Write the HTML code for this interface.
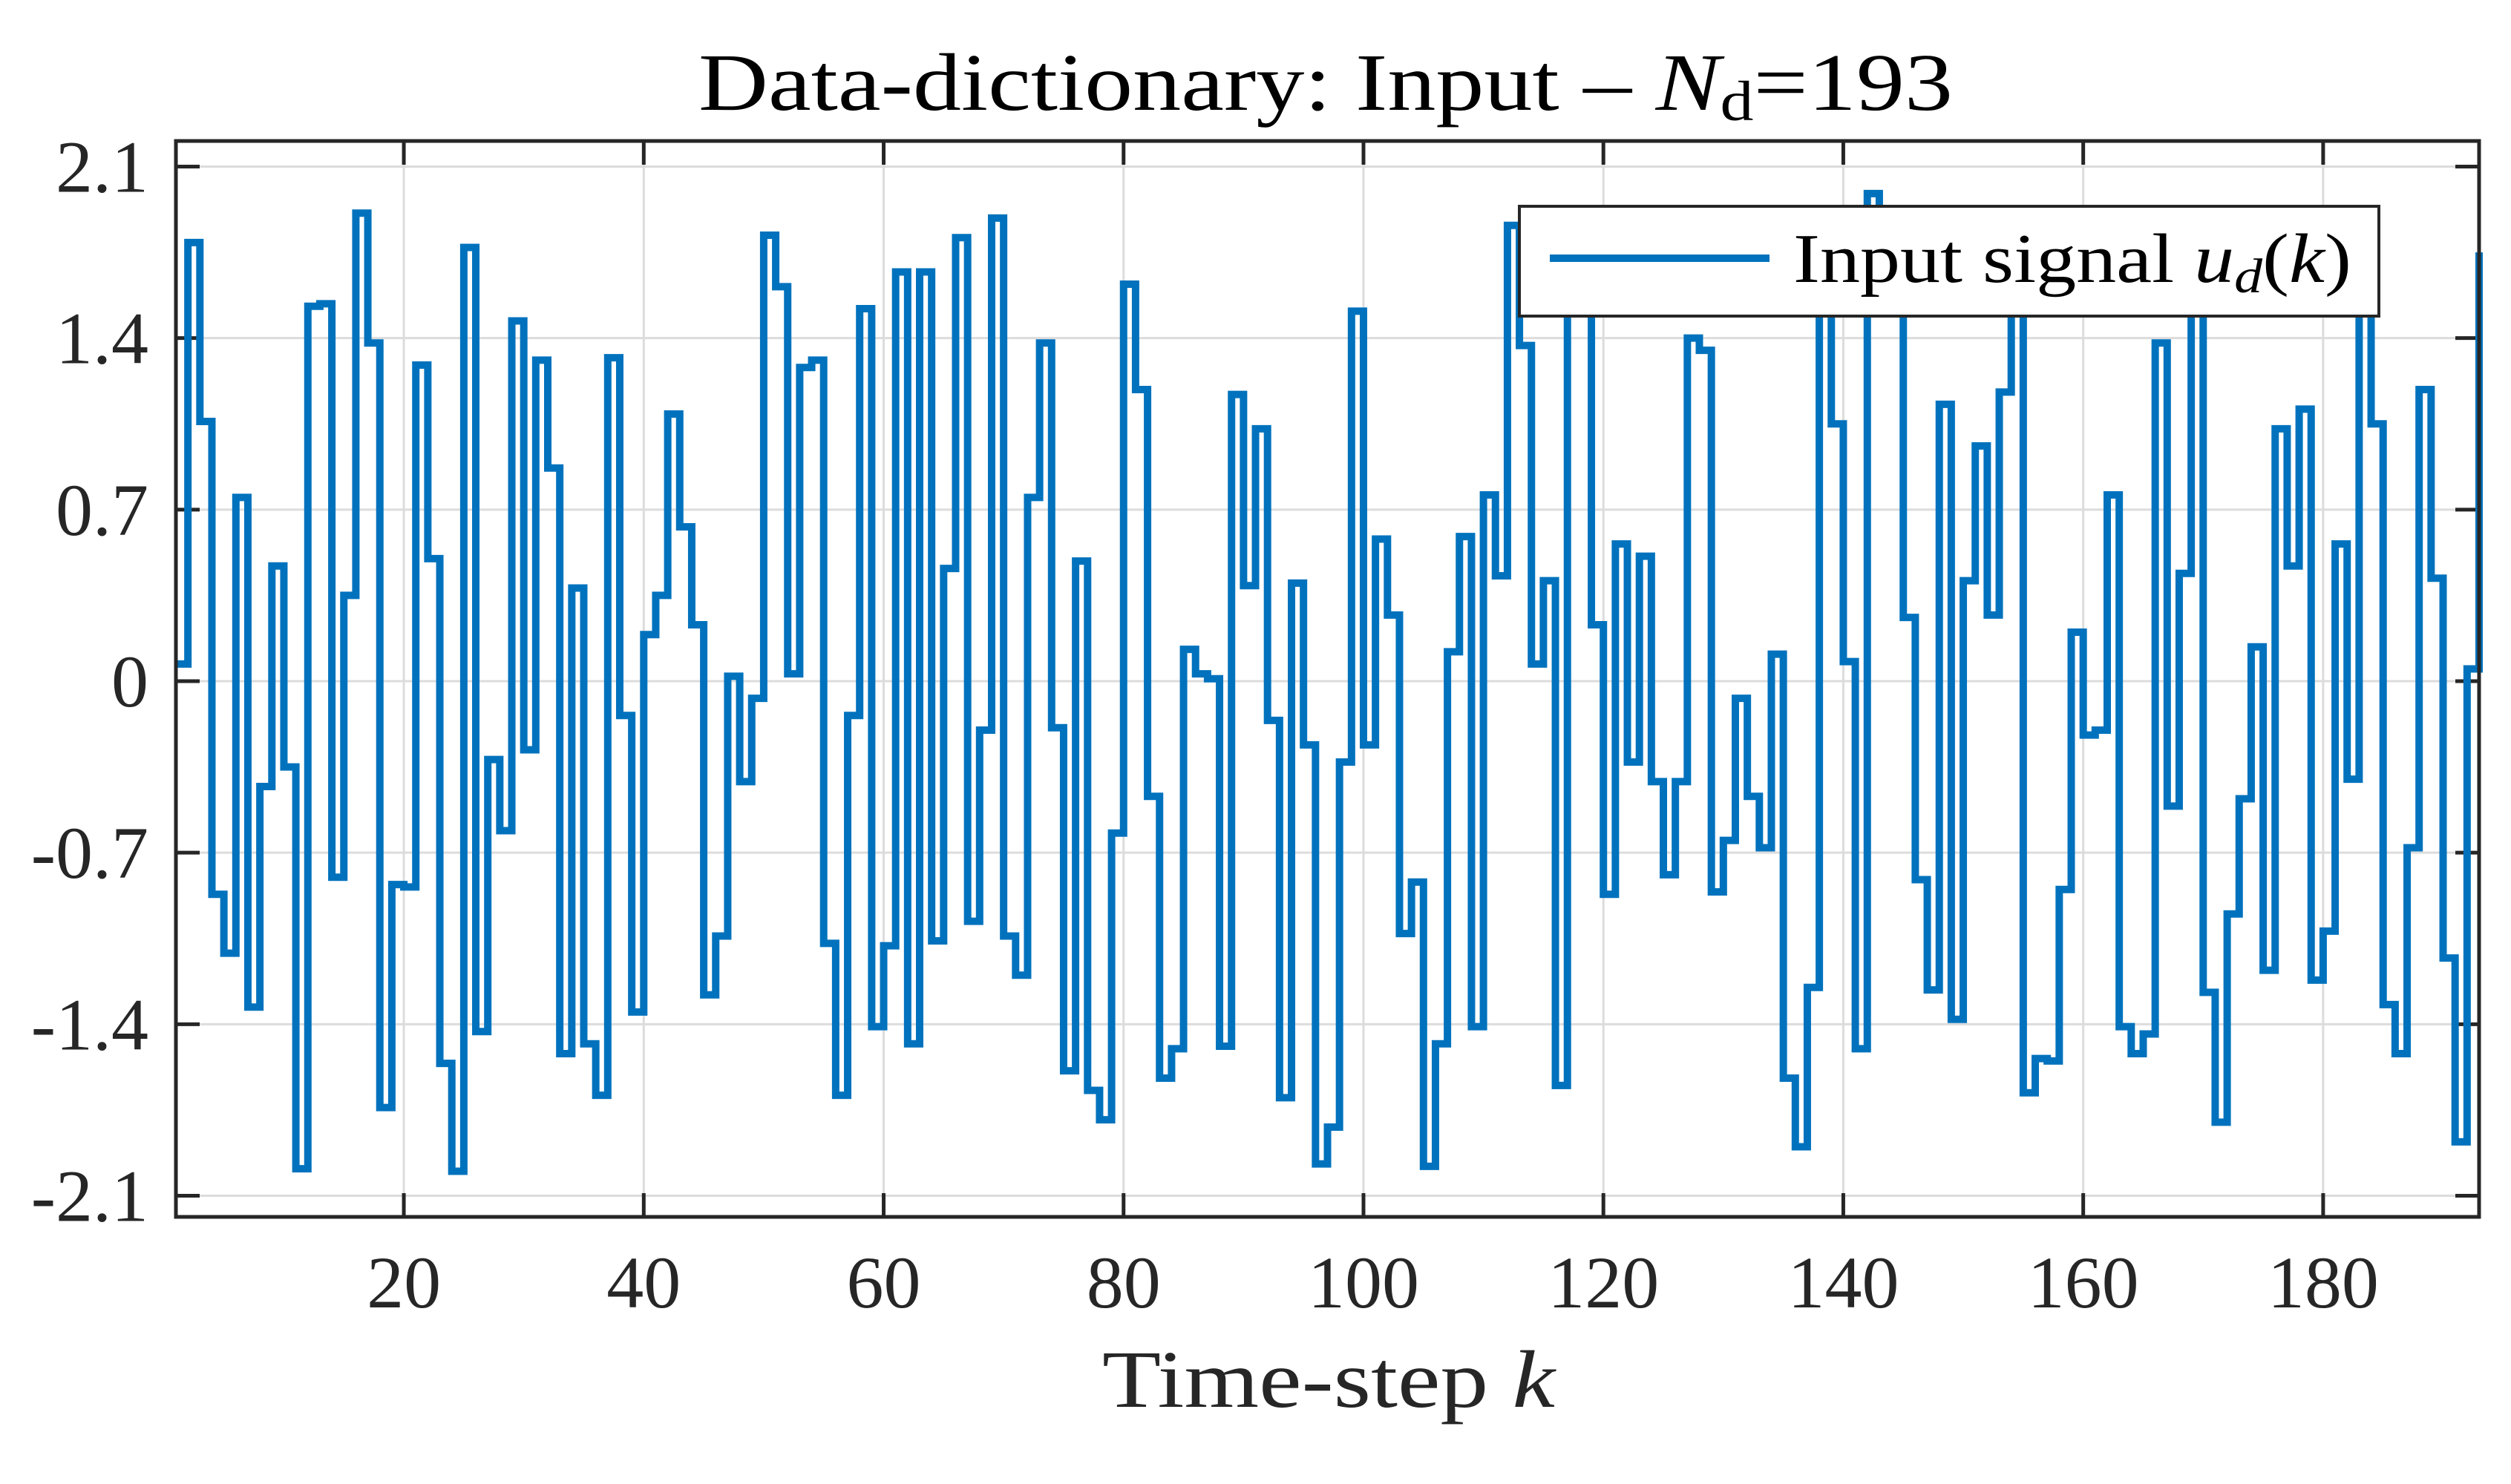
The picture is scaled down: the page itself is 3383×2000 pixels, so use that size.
<!DOCTYPE html>
<html><head><meta charset="utf-8"><style>
html,body{margin:0;padding:0;background:#fff;}
svg{display:block;font-family:"Liberation Serif",serif;}
</style></head><body>
<svg id="chart" width="3383" height="2000" viewBox="0 0 3383 2000" xmlns="http://www.w3.org/2000/svg">
<rect x="0" y="0" width="3383" height="2000" fill="#fff"/>
<g id="grid"></g>
<g id="ticks"></g>
<path id="series" fill="none" stroke="#0072BD" stroke-width="10" stroke-linejoin="miter"/>
<rect x="237" y="190" width="3103" height="1450" fill="none" stroke="#262626" stroke-width="5"/>
<g id="labels" fill="#262626" font-size="100"></g>
<text x="1786" y="148" text-anchor="middle" font-size="110" fill="#000" textLength="1690" lengthAdjust="spacingAndGlyphs">Data-dictionary: Input – <tspan font-style="italic">N</tspan><tspan font-size="76" dy="14">d</tspan><tspan dy="-14">=193</tspan></text>
<text x="1790" y="1896" text-anchor="middle" font-size="110" fill="#262626" textLength="610" lengthAdjust="spacingAndGlyphs">Time-step <tspan font-style="italic">k</tspan></text>
<g>
<rect x="2047" y="278" width="1158" height="148" fill="#fff" stroke="#262626" stroke-width="4"/>
<line x1="2088" y1="348" x2="2384" y2="348" stroke="#0072BD" stroke-width="10"/>
<text x="2416" y="380" font-size="94" fill="#000" textLength="752" lengthAdjust="spacingAndGlyphs">Input signal <tspan font-style="italic">u</tspan><tspan font-style="italic" font-size="66" dy="14">d</tspan><tspan dy="-14">(</tspan><tspan font-style="italic">k</tspan>)</text>
</g>
</svg>
<script>
const values = [0.07,1.79,1.06,-0.87,-1.11,0.75,-1.33,-0.43,0.47,-0.35,
-1.99,1.53,1.54,-0.80,0.35,1.91,1.38,-1.74,-0.83,-0.84,
1.29,0.50,-1.56,-2.00,1.77,-1.43,-0.32,-0.61,1.47,-0.28,
1.31,0.87,-1.52,0.38,-1.48,-1.69,1.32,-0.14,-1.35,0.19,
0.35,1.09,0.63,0.23,-1.28,-1.04,0.02,-0.41,-0.07,1.82,
1.61,0.03,1.28,1.31,-1.07,-1.69,-0.14,1.52,-1.41,-1.08,
1.67,-1.48,1.67,-1.06,0.46,1.81,-0.98,-0.20,1.89,-1.04,
-1.20,0.75,1.38,-0.19,-1.59,0.49,-1.67,-1.79,-0.62,1.62,
1.19,-0.47,-1.62,-1.50,0.13,0.03,0.01,-1.49,1.17,0.39,
1.03,-0.16,-1.70,0.40,-0.26,-1.97,-1.82,-0.33,1.51,-0.26,
0.58,0.27,-1.03,-0.82,-1.98,-1.48,0.12,0.59,-1.41,0.76,
0.43,1.86,1.37,0.07,0.41,-1.65,1.70,1.70,0.23,-0.87,
0.56,-0.33,0.51,-0.41,-0.79,-0.41,1.40,1.35,-0.86,-0.65,
-0.07,-0.47,-0.68,0.11,-1.62,-1.90,-1.25,1.70,1.05,0.08,
-1.50,1.99,1.65,1.65,0.26,-0.81,-1.26,1.13,-1.38,0.41,
0.96,0.27,1.18,1.70,-1.68,-1.54,-1.55,-0.85,0.20,-0.22,
-0.20,0.76,-1.41,-1.52,-1.44,1.38,-0.51,0.44,1.70,-1.27,
-1.80,-0.95,-0.48,0.14,-1.18,1.03,0.47,1.11,-1.22,-1.02,
0.56,-0.40,1.70,1.05,-1.32,-1.52,-0.68,1.19,0.42,-1.13,
-1.88,0.05,1.75];
const xTicks = [20,40,60,80,100,120,140,160,180];
const yTicks = [-2.1,-1.4,-0.7,0,0.7,1.4,2.1];
const yTickLabels = ["-2.1","-1.4","-0.7","0","0.7","1.4","2.1"];

const L=237,R=3340,T=190,B=1640;
const xMin=1,xMax=193;
function sx(k){return L+(k-xMin)/(xMax-xMin)*(R-L);}
function sy(v){return 918-v*(1610-223)/4.2;}
const NS="http://www.w3.org/2000/svg";
const grid=document.getElementById('grid'),ticks=document.getElementById('ticks'),labels=document.getElementById('labels');
function mk(tag,attrs,parent){const e=document.createElementNS(NS,tag);for(const k in attrs)e.setAttribute(k,attrs[k]);parent.appendChild(e);return e;}
xTicks.forEach(t=>{
  const x=sx(t);
  const g=mk('line',{x1:x,y1:T,x2:x,y2:B,stroke:'#dcdcdc','stroke-width':3},grid);
  
  
  const a=mk('line',{x1:x,y1:B,x2:x,y2:B-32,stroke:'#262626','stroke-width':5},ticks);
  
  
  const b=mk('line',{x1:x,y1:T,x2:x,y2:T+32,stroke:'#262626','stroke-width':5},ticks);
  
  
  const tx=mk('text',{x:x,y:1762,'text-anchor':'middle'},labels);
  tx.textContent=String(t);
  
  
});
yTicks.forEach((t,i)=>{
  const y=sy(t);
  const g=mk('line',{x1:L,y1:y,x2:R,y2:y,stroke:'#dcdcdc','stroke-width':3},grid);
  
  
  const a=mk('line',{x1:L,y1:y,x2:L+32,y2:y,stroke:'#262626','stroke-width':5},ticks);
  
  
  const b=mk('line',{x1:R,y1:y,x2:R-32,y2:y,stroke:'#262626','stroke-width':5},ticks);
  
  
  const tx=mk('text',{x:200,y:y+34,'text-anchor':'end'},labels);
  tx.textContent=yTickLabels[i];
  
  
});
let d='';
for(let i=0;i<values.length;i++){
  const k=i+1,y=sy(values[i]);
  if(i===0)d+='M'+sx(k)+','+y;else d+='V'+y;
  if(k<xMax)d+='H'+sx(k+1);
}
document.getElementById('series').setAttribute('d',d);
</script>
</body></html>
